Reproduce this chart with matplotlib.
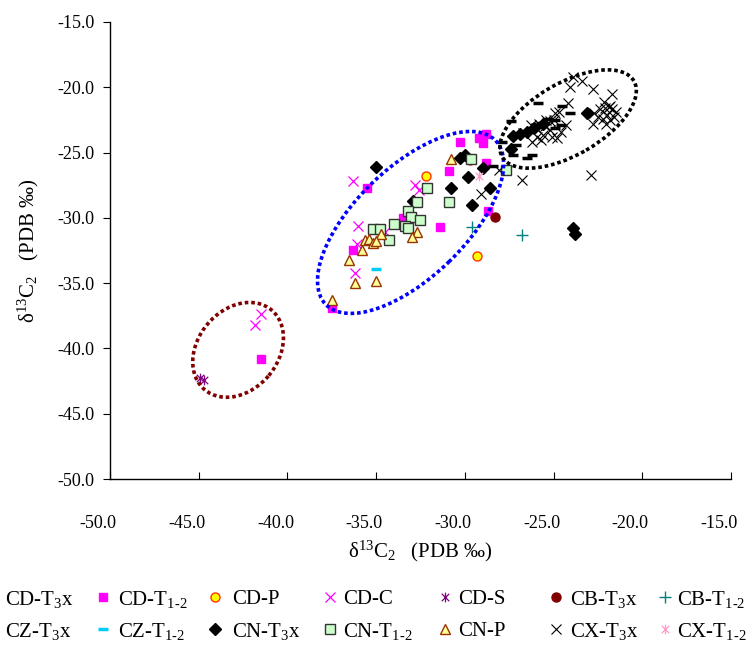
import matplotlib
matplotlib.use("Agg")
import matplotlib.pyplot as plt
from matplotlib.lines import Line2D
from matplotlib.patches import Ellipse
from matplotlib.path import Path
from matplotlib.transforms import ScaledTranslation
from matplotlib.ticker import MultipleLocator, FormatStrFormatter

plt.rcParams['font.family'] = ['Liberation Serif', 'DejaVu Serif']
plt.rcParams['mathtext.fontset'] = 'custom'
plt.rcParams['mathtext.rm'] = 'Liberation Serif'
plt.rcParams['mathtext.default'] = 'regular'
plt.rcParams['axes.unicode_minus'] = False

# delta13C1 (x) vs delta13C2 (y), PDB permil
cd_t12_x = [-35.5, -33.5, -36.3, -37.5, -30.3, -28.8, -29.2, -29.0, -30.9, -28.8, -28.7, -31.4, -41.5]
cd_t12_y = [-27.7, -30.0, -32.5, -36.9, -24.2, -23.6, -23.9, -24.3, -26.4, -25.8, -29.5, -30.7, -40.8]
cd_p_x = [-32.2, -29.3, -29.7]
cd_p_y = [-26.8, -32.9, -25.6]
cd_c_x = [-36.3, -32.8, -32.6, -36.0, -34.5, -36.1, -36.2, -41.5, -41.8]
cd_c_y = [-27.2, -27.5, -27.9, -30.6, -31.1, -32.0, -34.2, -37.4, -38.2]
cd_s_x = [-44.9, -44.7]
cd_s_y = [-42.3, -42.4]
cb_t3_x = [-28.3]
cb_t3_y = [-29.9]
cb_t12_x = [-29.6, -26.8]
cb_t12_y = [-30.7, -31.3]
cz_t3_x = [-25.9, -24.1, -24.5, -25.3, -24.9, -26.0, -25.7, -24.6, -27.4, -27.9, -27.1, -27.3,
           -26.5, -26.2, -28.4, -24.9]
cz_t3_y = [-21.2, -22.0, -21.4, -22.4, -22.5, -22.9, -22.7, -22.9, -22.6, -24.2, -24.4, -25.2,
           -25.4, -25.2, -26.0, -23.1]
cz_t12_x = [-35.0]
cz_t12_y = [-33.9]
cn_t3_x = [-35.0, -32.9, -30.3, -30.0, -29.0, -29.8, -30.8, -28.6, -29.6, -23.9, -23.8,
           -27.4, -27.3, -26.9, -26.5, -26.1, -25.6, -23.1]
cn_t3_y = [-26.1, -28.7, -25.4, -25.2, -26.2, -26.9, -27.7, -27.7, -29.0, -30.8, -31.2,
           -24.7, -23.7, -23.6, -23.4, -23.1, -22.8, -22.0]
cn_t12_x = [-32.15, -32.7, -33.2, -33.05, -32.5, -34.0, -33.4, -33.2, -35.2, -34.8, -34.3,
            -29.65, -27.7, -30.9]
cn_t12_y = [-27.7, -28.8, -29.45, -29.95, -30.2, -30.5, -30.6, -30.75, -30.85, -30.85, -31.7,
            -25.5, -26.3, -28.8]
cn_p_x = [-30.8, -34.7, -32.7, -33.0, -35.6, -35.4, -35.2, -35.0, -35.8, -36.55, -36.2, -35.0, -37.5]
cn_p_y = [-25.5, -31.2, -31.1, -31.5, -31.7, -31.6, -31.95, -31.8, -32.5, -33.2, -35.0, -34.8, -36.3]
cx_t3_x = [-28.1, -29.1, -26.8, -22.9,
           -23.9, -23.4, -24.1, -22.8, -21.7, -24.2, -22.15, -24.7,
           -22.7, -22.4, -22.1, -21.9, -21.7, -21.5, -22.0, -22.2, -21.8, -21.6, -22.5, -22.8,
           -22.05, -21.8,
           -26.3, -26.0, -25.8, -25.5, -25.2, -25.95, -25.6, -25.1, -24.8, -26.2, -25.4, -25.2,
           -24.3, -24.6, -26.7, -25.7, -24.9, -25.0]
cx_t3_y = [-26.3, -28.2, -27.1, -26.7,
           -19.2, -19.5, -20.0, -20.1, -20.5, -21.2, -21.1, -21.9,
           -22.0, -21.7, -21.6, -21.5, -21.7, -21.9, -22.1, -22.4, -22.5, -22.25, -22.25, -22.8,
           -22.8, -21.4,
           -22.9, -23.1, -22.8, -23.0, -23.3, -23.8, -23.65, -23.8, -23.9, -24.2, -22.5, -22.6,
           -22.9, -23.4, -23.5, -24.0, -22.0, -22.5]
cx_t12_x = [-29.2]
cx_t12_y = [-26.8]

# legend labels, first row then second row
labels_row1 = ['CD-T$_3$x', 'CD-T$_{\\text{1-2}}$', 'CD-P', 'CD-C', 'CD-S', 'CB-T$_3$x', 'CB-T$_{\\text{1-2}}$']
labels_row2 = ['CZ-T$_3$x', 'CZ-T$_{\\text{1-2}}$', 'CN-T$_3$x', 'CN-T$_{\\text{1-2}}$', 'CN-P', 'CX-T$_3$x', 'CX-T$_{\\text{1-2}}$']

# asterisk made of an x and a vertical bar
star = Path([[-1, -1], [1, 1], [-1, 1], [1, -1], [0, -1.3], [0, 1.3]],
            [Path.MOVETO, Path.LINETO, Path.MOVETO, Path.LINETO, Path.MOVETO, Path.LINETO])

styles = {
    'CD-T3x': dict(marker='', ls=''),
    'CD-T12': dict(marker='s', ms=6, mfc='#FF00FF', mec='#FF00FF'),
    'CD-P': dict(marker='o', ms=6.5, mfc='#FFFF00', mec='#FF3300', mew=1),
    'CD-C': dict(marker='x', ms=7.5, mec='#FF00FF', mew=0.9),
    'CD-S': dict(marker=star, ms=7, mec='#800080', mfc='none', mew=0.9),
    'CB-T3x': dict(marker='o', ms=6.5, mfc='#800000', mec='#800000'),
    'CB-T12': dict(marker='+', ms=8, mec='#008080', mew=1),
    'CZ-T3x': dict(marker='_', ms=7, mec='black', mew=2.5),
    'CZ-T12': dict(marker='_', ms=7, mec='#00CCFF', mew=2.5),
    'CN-T3x': dict(marker='D', ms=6, mfc='black', mec='black'),
    'CN-T12': dict(marker='s', ms=6.5, mfc='#CCFFCC', mec='#333333', mew=1),
    'CN-P': dict(marker='^', ms=7.5, mfc='#FFFF99', mec='#993300', mew=1),
    'CX-T3x': dict(marker='x', ms=7.5, mec='black', mew=0.8),
    'CX-T12': dict(marker=star, ms=7, mec='#FF99CC', mfc='none', mew=0.9),
}

series = [
    ('CD-T12', cd_t12_x, cd_t12_y), ('CD-P', cd_p_x, cd_p_y), ('CD-C', cd_c_x, cd_c_y),
    ('CD-S', cd_s_x, cd_s_y), ('CB-T3x', cb_t3_x, cb_t3_y), ('CB-T12', cb_t12_x, cb_t12_y),
    ('CZ-T3x', cz_t3_x, cz_t3_y), ('CZ-T12', cz_t12_x, cz_t12_y), ('CN-T3x', cn_t3_x, cn_t3_y),
    ('CN-T12', cn_t12_x, cn_t12_y), ('CN-P', cn_p_x, cn_p_y), ('CX-T3x', cx_t3_x, cx_t3_y),
    ('CX-T12', cx_t12_x, cx_t12_y),
]

# group outlines: centre (data), width/height (inches), angle, colour
groups = [
    ((-33.06, -30.35), 2.36, 1.10, 44, '#0000FF'),
    ((-24.18, -22.43), 1.52, 0.72, 30, '#000000'),
    ((-42.78, -40.11), 1.04, 0.80, 50, '#800000'),
]

fig = plt.figure(figsize=(7.5, 6.46), dpi=100)
ax = fig.add_axes([110 / 750, 1 - 479 / 646, 621 / 750, 457 / 646])

for key, xs, ys in series:
    ax.plot(xs, ys, ls='', **styles[key])

for (cx, cy), w, h, ang, col in groups:
    tr = fig.dpi_scale_trans + ScaledTranslation(cx, cy, ax.transData)
    ax.add_patch(Ellipse((0, 0), w, h, angle=ang, transform=tr, fill=False,
                         edgecolor=col, lw=2.6, ls=(0, (1, 0.8)), zorder=5))

ax.set_xlim(-50, -15)
ax.set_ylim(-50, -15)
ax.xaxis.set_major_locator(MultipleLocator(5))
ax.yaxis.set_major_locator(MultipleLocator(5))
ax.xaxis.set_major_formatter(FormatStrFormatter('%.1f'))
ax.yaxis.set_major_formatter(FormatStrFormatter('%.1f'))
for s in ['top', 'right']:
    ax.spines[s].set_visible(False)
for s in ['left', 'bottom']:
    ax.spines[s].set_linewidth(1)
ax.tick_params(axis='x', direction='in', length=5, pad=26, labelsize=13)
ax.tick_params(axis='y', direction='out', length=5, pad=6, labelsize=13)
ax.set_xlabel('δ$^{13}$C$_2$   (PDB ‰)', fontsize=15, labelpad=5)
ax.set_ylabel('δ$^{13}$C$_2$   (PDB ‰)', fontsize=15, labelpad=12)

# x tick labels sit a little left of their ticks
shift = ScaledTranslation(-0.12, 0, fig.dpi_scale_trans)
for lbl in ax.get_xticklabels():
    lbl.set_transform(lbl.get_transform() + shift)

# legend laid out as a 2 x 7 grid below the plot
mark_x = [None, 103, 215, 330, 445, 556, 665]
text_x = [5, 118, 232, 343, 458, 570, 677]
row_y = [600, 632]
keys = [['CD-T3x', 'CD-T12', 'CD-P', 'CD-C', 'CD-S', 'CB-T3x', 'CB-T12'],
        ['CZ-T3x', 'CZ-T12', 'CN-T3x', 'CN-T12', 'CN-P', 'CX-T3x', 'CX-T12']]
for r, labels in enumerate([labels_row1, labels_row2]):
    fy = 1 - row_y[r] / 646
    for c, lab in enumerate(labels):
        if mark_x[c] is not None:
            fig.add_artist(Line2D([mark_x[c] / 750], [fy + 0.005], transform=fig.transFigure,
                                  ls='', **styles[keys[r][c]]))
        fig.text(text_x[c] / 750, fy, lab, fontsize=15, ha='left', va='center')

fig.savefig('out.png', dpi=100)
